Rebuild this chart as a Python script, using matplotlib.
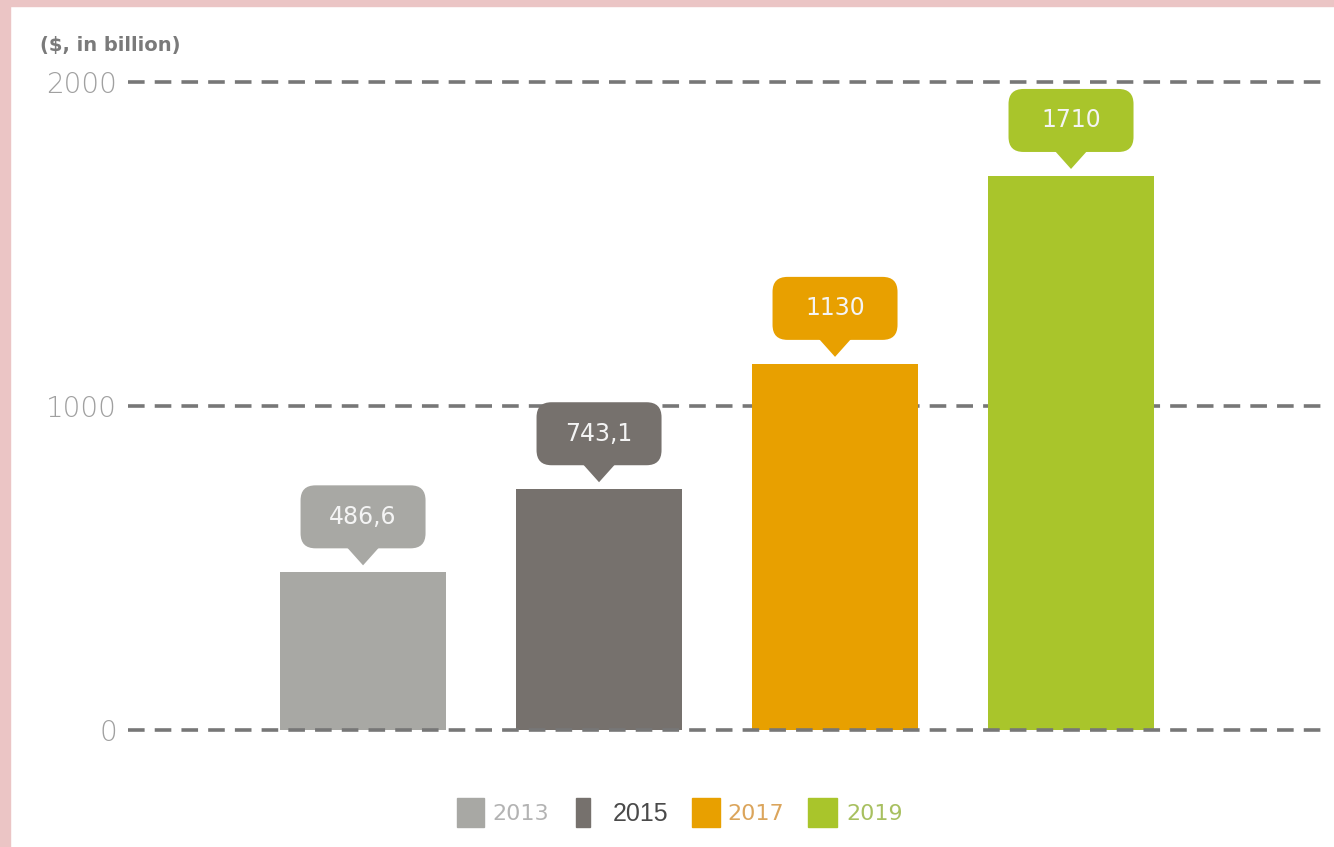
import matplotlib
matplotlib.use("Agg")
import matplotlib.pyplot as plt
import matplotlib.transforms as mtransforms
from matplotlib.patches import FancyBboxPatch, Polygon, Rectangle

years = ["2013", "2015", "2017", "2019"]
values = [486.6, 743.1, 1130, 1710]
value_labels = ["486,6", "743,1", "1130", "1710"]
colors = ["#a8a8a4", "#76716d", "#e8a000", "#a9c52b"]
legend_text_colors = ["#b3b3b3", "#4a4a4a", "#dba55c", "#a8c060"]
yticks = [0, 1000, 2000]

W, H = 1334, 847
fig = plt.figure(figsize=(W / 100, H / 100), dpi=100)
fig.patch.set_facecolor("white")

# axes placed so that 0 and 2000 land on the reference gridlines
ax = fig.add_axes([128 / W, 1 - 730 / H, 1196 / W, (730 - 82) / H])
ax.set_xlim(-0.996, 4.072)
ax.set_ylim(0, 2000)
for s in ax.spines.values():
    s.set_visible(False)
ax.set_xticks([])
ax.set_yticks(yticks)
ax.set_yticklabels([str(t) for t in yticks], fontsize=20, color="#a0a0a0",
                   fontweight="light")
ax.tick_params(axis="y", length=0, pad=8)

# dashed gridlines
dash = (0, (4.6, 2.8))
for t in yticks:
    z = 3 if t == 0 else 1
    ax.axhline(t, color="#777777", lw=2.6, linestyle=dash, clip_on=False, zorder=z)

x = range(len(years))
ax.bar(x, values, width=0.703, color=colors, zorder=2)

# callouts above bars
for i, (v, lab, c) in enumerate(zip(values, value_labels, colors)):
    tr = fig.dpi_scale_trans + mtransforms.ScaledTranslation(i, v, ax.transData)
    box = FancyBboxPatch((-0.575, 0.29), 1.15, 0.53,
                         boxstyle="round,pad=0.05,rounding_size=0.15",
                         fc=c, ec="none", transform=tr, zorder=4, clip_on=False)
    ax.add_patch(box)
    tri = Polygon([(-0.17, 0.26), (0.17, 0.26), (0, 0.07)], closed=True,
                  fc=c, ec="none", transform=tr, zorder=4, clip_on=False)
    ax.add_patch(tri)
    ax.text(0, 0.555, lab, transform=tr, ha="center", va="center",
            fontsize=17, color="#f4f4f4", zorder=5)

# unit label
fig.text(40 / W, 1 - 45 / H, "($, in billion)", ha="left", va="center",
         fontsize=14, color="#7a7a7a", fontweight="bold")

# legend drawn by hand
sq_x = [457, 576, 692, 808]
sq_w = [27, 14, 28, 29]
txt_x = [492, 613, 727, 846]
for i in range(len(years)):
    fig.patches.append(Rectangle((sq_x[i] / W, 1 - 827 / H), sq_w[i] / W, 29 / H,
                                 transform=fig.transFigure, color=colors[i]))
    if years[i] == "2015":
        fam, fs = "Liberation Sans", 18
    else:
        fam, fs = "DejaVu Sans", 16
    fig.text(txt_x[i] / W, 1 - 814 / H, years[i], ha="left", va="center",
             fontsize=fs, color=legend_text_colors[i], family=fam)

# pink frame strips
fig.patches.append(Rectangle((0, 1 - 6 / H), 1, 6 / H, transform=fig.transFigure,
                             color="#ebc5c5", zorder=10))
fig.patches.append(Rectangle((0, 0), 10 / W, 1, transform=fig.transFigure,
                             color="#ebc5c5", zorder=10))

fig.savefig("out.png", dpi=100)
